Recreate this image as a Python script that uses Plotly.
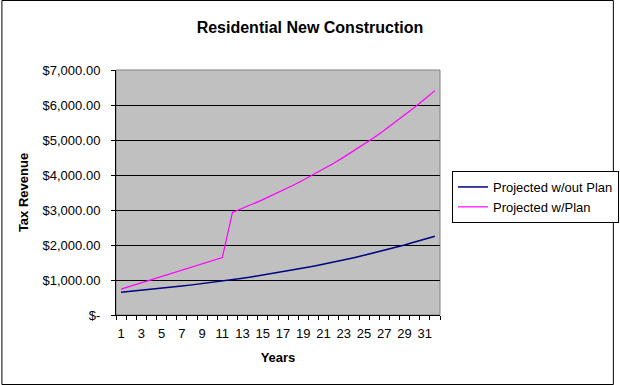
import plotly.graph_objects as go

years = list(range(1, 33))
without_plan = [650, 677, 704, 733, 763, 795, 827, 861, 896, 933, 971, 1011,
                1053, 1096, 1141, 1187, 1236, 1287, 1340, 1395, 1452, 1511, 1573, 1638,
                1705, 1775, 1847, 1923, 2002, 2084, 2170, 2250]
with_plan = [740, 830, 920, 1010, 1100, 1190, 1280, 1370, 1460, 1550, 1640, 2930,
             3040, 3170, 3296, 3428, 3565, 3708, 3856, 4010, 4171, 4337, 4511, 4691,
             4879, 5074, 5277, 5488, 5708, 5936, 6173, 6410]
y_tickvals = [0, 1000, 2000, 3000, 4000, 5000, 6000, 7000]
y_ticktext = ["$-", "$1,000.00", "$2,000.00", "$3,000.00", "$4,000.00",
              "$5,000.00", "$6,000.00", "$7,000.00"]
x_tickvals = [1, 3, 5, 7, 9, 11, 13, 15, 17, 19, 21, 23, 25, 27, 29, 31]

FONT = "Liberation Sans, Arial, sans-serif"

fig = go.Figure()
fig.add_trace(go.Scatter(x=years, y=without_plan, mode="lines", name="Projected w/out Plan",
                         line=dict(color="#000080", width=1.5)))
fig.add_trace(go.Scatter(x=years, y=with_plan, mode="lines", name="Projected w/Plan",
                         line=dict(color="#FF00FF", width=1.2)))

L, R, T, B = 116, 444, 70, 315
W, H = 620, 385
pw, ph = R - L, B - T

fig.update_layout(
    width=W, height=H, autosize=False,
    margin=dict(l=L, r=W - R, t=T, b=H - B, pad=0),
    paper_bgcolor="white",
    plot_bgcolor="#C0C0C0",
    font=dict(family=FONT, size=13, color="black"),
    title=dict(text="<b>Residential New Construction</b>", x=310 / W, xanchor="center",
               y=1 - 27 / H, yanchor="middle", font=dict(size=16, family=FONT, color="black")),
    showlegend=True,
    legend=dict(xref="container", yref="container",
                x=452 / W, xanchor="left", y=1 - 171 / H, yanchor="top",
                bgcolor="white", bordercolor="black", borderwidth=1,
                font=dict(size=13, family=FONT, color="black"),
                itemwidth=30, tracegroupgap=0),
    xaxis=dict(range=[0.5, 32.5], tickmode="array", tickvals=x_tickvals,
               ticks="", showgrid=False, zeroline=False,
               showline=True, linecolor="black", linewidth=1,
               tickfont=dict(size=13, family=FONT, color="black"),
               ticklabelstandoff=6,
               minor=dict(tickmode="array", tickvals=[i + 0.5 for i in range(0, 33)],
                          ticks="outside", ticklen=4, tickcolor="black", tickwidth=1,
                          showgrid=False),
               title=dict(text="<b>Years</b>", font=dict(size=13, family=FONT, color="black"),
                          standoff=13)),
    yaxis=dict(range=[0, 7000], tickmode="array", tickvals=y_tickvals, ticktext=y_ticktext,
               ticks="outside", ticklen=4, tickcolor="black",
               showgrid=True, gridcolor="black", gridwidth=1, zeroline=False,
               showline=True, linecolor="black", linewidth=1,
               tickfont=dict(size=13, family=FONT, color="black"),
               ticklabelstandoff=8,
               title=dict(text="<b>Tax Revenue</b>", font=dict(size=13, family=FONT, color="black"),
                          standoff=11)),
    shapes=[
        dict(type="rect", xref="paper", yref="paper", x0=0, x1=1, y0=0, y1=1,
             line=dict(color="#808080", width=1), layer="below"),
        dict(type="rect", xref="paper", yref="paper",
             x0=(0.5 - L) / pw, x1=(W - 0.5 - L) / pw,
             y0=(B - (H - 0.5)) / ph, y1=(B - 0.5) / ph,
             line=dict(color="black", width=1), layer="above"),
    ],
)

fig.write_html(
    "out.html",
    config={"responsive": False, "displayModeBar": False},
    post_script=("document.body.style.margin='0px';"
                 "document.body.style.overflow='hidden';"
                 "document.documentElement.style.overflow='hidden';"),
)
